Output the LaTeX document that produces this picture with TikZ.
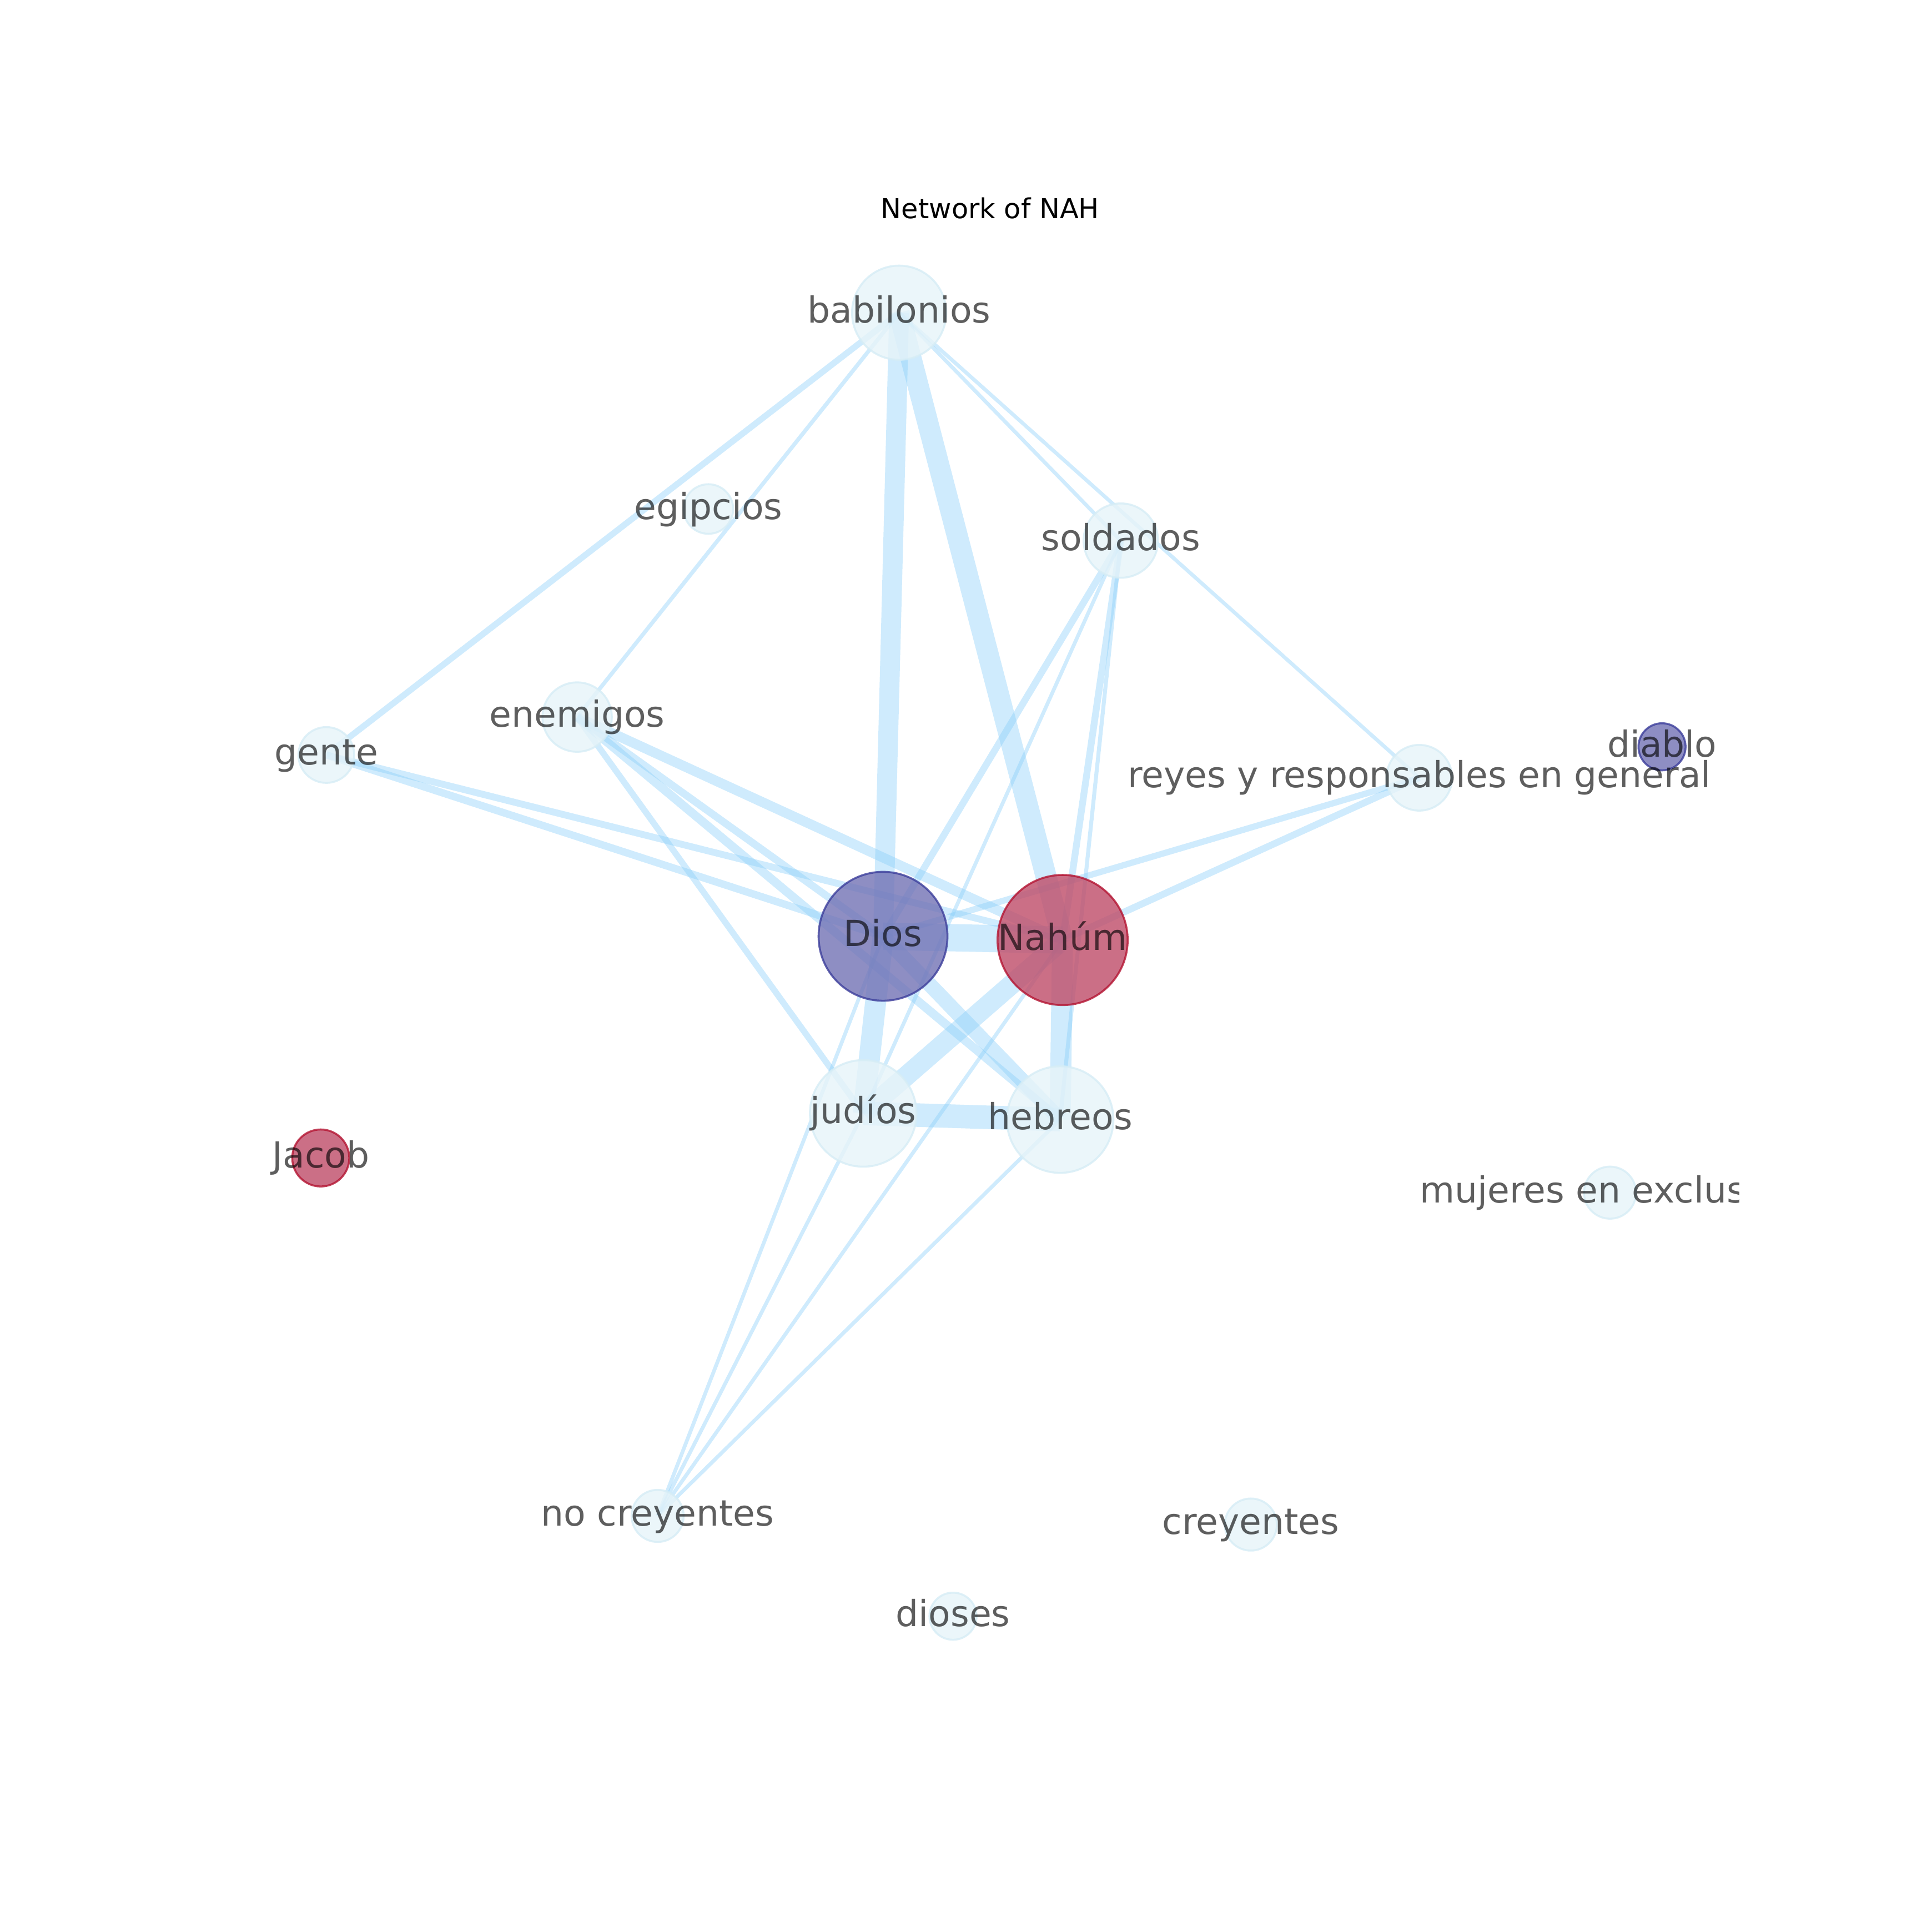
\documentclass[tikz,border=0pt]{standalone}
\usepackage{fontspec}
\setmainfont{DejaVu Sans}
\usetikzlibrary{backgrounds}
\definecolor{edgec}{RGB}{135,206,250}
\definecolor{blufill}{RGB}{114,114,181}
\definecolor{bluline}{RGB}{60,62,155}
\definecolor{redfill}{RGB}{191,76,104}
\definecolor{redline}{RGB}{180,20,50}
\definecolor{ltfill}{RGB}{231,244,249}
\definecolor{ltline}{RGB}{214,237,246}
\begin{document}
\begin{tikzpicture}[x=0.01cm,y=-0.01cm,
  vnode/.style={circle, inner sep=0pt, outer sep=0pt, minimum size=#1, line width=0.45pt, fill opacity=0.8, draw opacity=0.8},
  bnode/.style={vnode=#1, fill=blufill, draw=bluline},
  rnode/.style={vnode=#1, fill=redfill, draw=redline},
  lnode/.style={vnode=#1, fill=ltfill, draw=ltline},
  edge/.style={draw=edgec, draw opacity=0.4, line cap=butt, line width=#1},
  lab/.style={anchor=base, inner sep=0pt, text=black, text opacity=0.63, font=\fontsize{8.25pt}{10pt}\selectfont},
  ttl/.style={anchor=base, inner sep=0pt, text=black, font=\fontsize{6.3pt}{8pt}\selectfont}]
\useasboundingbox (0,0) rectangle (1560,1560);

% nodes
\node[lnode=0.76cm] (babilonios) at (726,252.5) {};
\node[lnode=0.40cm] (egipcios) at (572,411) {};
\node[lnode=0.60cm] (soldados) at (905,436.5) {};
\node[lnode=0.56cm] (enemigos) at (466,579) {};
\node[lnode=0.45cm] (gente) at (263.5,609.6) {};
\node[lnode=0.53cm] (reyes) at (1146,628) {};
\node[bnode=0.38cm] (diablo) at (1342,603) {};
\node[bnode=1.04cm] (dios) at (713,756) {};
\node[rnode=1.05cm] (nahum) at (858,759) {};
\node[lnode=0.86cm] (judios) at (697,899) {};
\node[lnode=0.86cm] (hebreos) at (856,904) {};
\node[rnode=0.46cm] (jacob) at (259,935) {};
\node[lnode=0.42cm] (mujeres) at (1300,963) {};
\node[lnode=0.42cm] (nocrey) at (531,1224) {};
\node[lnode=0.42cm] (crey) at (1010,1231) {};
\node[lnode=0.38cm] (dioses) at (769.5,1305) {};

% edges
\begin{scope}[on background layer]
\fill[white] (0,0) rectangle (1560,1560);
\draw[edge=0.05cm] (babilonios.center) -- (gente.center);
\draw[edge=0.032cm] (babilonios.center) -- (enemigos.center);
\draw[edge=0.16cm] (babilonios.center) -- (dios.center);
\draw[edge=0.17cm] (babilonios.center) -- (nahum.center);
\draw[edge=0.03cm] (babilonios.center) -- (soldados.center);
\draw[edge=0.03cm] (babilonios.center) -- (reyes.center);
\draw[edge=0.06cm] (gente.center) -- (dios.center);
\draw[edge=0.055cm] (gente.center) -- (nahum.center);
\draw[edge=0.06cm] (enemigos.center) -- (dios.center);
\draw[edge=0.08cm] (enemigos.center) -- (nahum.center);
\draw[edge=0.05cm] (enemigos.center) -- (judios.center);
\draw[edge=0.07cm] (enemigos.center) -- (hebreos.center);
\draw[edge=0.055cm] (soldados.center) -- (dios.center);
\draw[edge=0.03cm] (soldados.center) -- (judios.center);
\draw[edge=0.055cm] (soldados.center) -- (nahum.center);
\draw[edge=0.032cm] (soldados.center) -- (hebreos.center);
\draw[edge=0.05cm] (reyes.center) -- (dios.center);
\draw[edge=0.055cm] (reyes.center) -- (nahum.center);
\draw[edge=0.22cm] (dios.center) -- (nahum.center);
\draw[edge=0.17cm] (dios.center) -- (judios.center);
\draw[edge=0.12cm] (dios.center) -- (hebreos.center);
\draw[edge=0.16cm] (nahum.center) -- (judios.center);
\draw[edge=0.17cm] (nahum.center) -- (hebreos.center);
\draw[edge=0.19cm] (judios.center) -- (hebreos.center);
\draw[edge=0.03cm] (nocrey.center) -- (dios.center);
\draw[edge=0.03cm] (nocrey.center) -- (judios.center);
\draw[edge=0.03cm] (nocrey.center) -- (nahum.center);
\draw[edge=0.03cm] (nocrey.center) -- (hebreos.center);
\end{scope}

% labels
\begin{scope}
\clip (195,187) rectangle (1404,1388);
\node[lab] (babilonios-t) at (726,260.5) {babilonios};
\node[lab] (egipcios-t) at (572,419.5) {egipcios};
\node[lab] (soldados-t) at (905,444.5) {soldados};
\node[lab] (enemigos-t) at (466,587) {enemigos};
\node[lab] (gente-t) at (263.5,617.6) {gente};
\node[lab] (reyes-t) at (1146,636) {reyes y responsables en general};
\node[lab] (diablo-t) at (1342,611) {diablo};
\node[lab] (dios-t) at (713,764) {Dios};
\node[lab] (nahum-t) at (858,767) {Nahúm};
\node[lab] (judios-t) at (697,907) {judíos};
\node[lab] (hebreos-t) at (856,912) {hebreos};
\node[lab] (jacob-t) at (259,943) {Jacob};
\node[lab] (mujeres-t) at (1300,971) {mujeres en exclusión};
\node[lab] (nocrey-t) at (531,1232) {no creyentes};
\node[lab] (crey-t) at (1010,1239) {creyentes};
\node[lab] (dioses-t) at (769.5,1313) {dioses};
\end{scope}

\node[ttl] (title) at (799.5,176.3) {Network of NAH};
\end{tikzpicture}
\end{document}
